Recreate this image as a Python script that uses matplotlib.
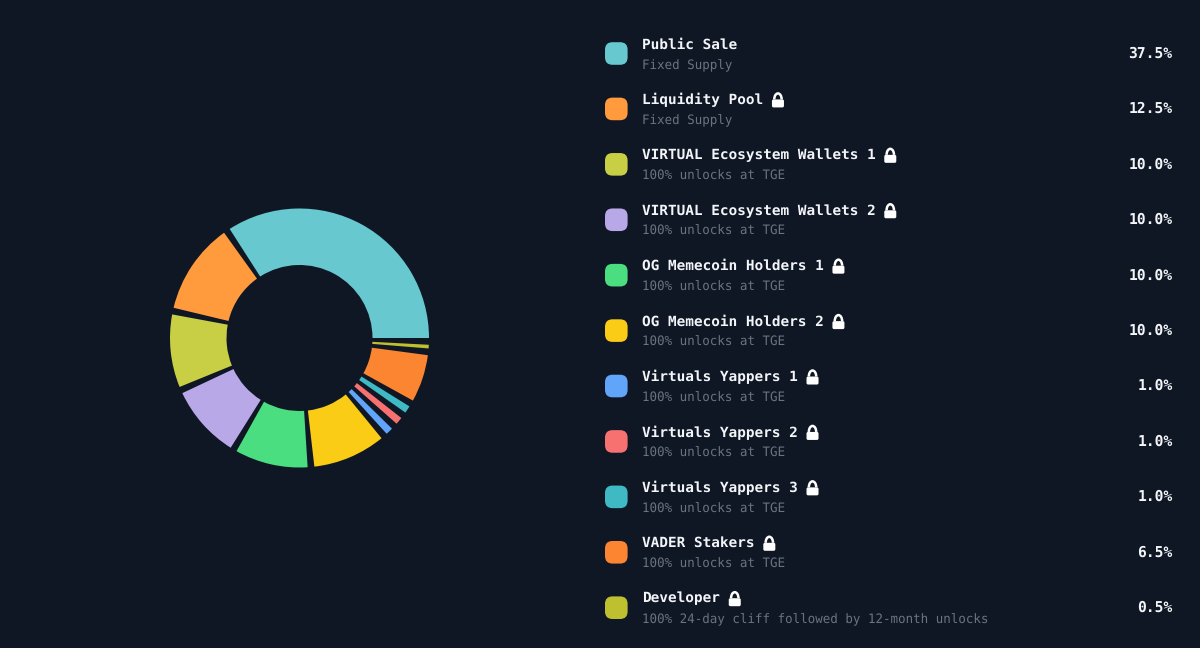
import matplotlib
matplotlib.use('Agg')
import matplotlib.pyplot as plt
from matplotlib.patches import Wedge, FancyBboxPatch, Arc

plt.rcParams['text.hinting'] = 'no_hinting'

# data
names = ['Public Sale', 'Liquidity Pool', 'VIRTUAL Ecosystem Wallets 1', 'VIRTUAL Ecosystem Wallets 2',
         'OG Memecoin Holders 1', 'OG Memecoin Holders 2', 'Virtuals Yappers 1', 'Virtuals Yappers 2',
         'Virtuals Yappers 3', 'VADER Stakers', 'Developer']
notes = ['Fixed Supply', 'Fixed Supply', '100% unlocks at TGE', '100% unlocks at TGE',
         '100% unlocks at TGE', '100% unlocks at TGE', '100% unlocks at TGE', '100% unlocks at TGE',
         '100% unlocks at TGE', '100% unlocks at TGE', '100% 24-day cliff followed by 12-month unlocks']
shares = [37.5, 12.5, 10.0, 10.0, 10.0, 10.0, 1.0, 1.0, 1.0, 6.5, 0.5]
locked = [False, True, True, True, True, True, True, True, True, True, True]
colors = ['#67C8CF', '#FF9A3D', '#C9CF45', '#B9A8E8', '#4ADE80', '#FACC15',
          '#60A5FA', '#F87171', '#3FB9C3', '#FB8530', '#BFC02F']

BG = '#0F1725'
GAP = 3.0  # degrees between slices

fig = plt.figure(figsize=(12, 6.48), dpi=100, facecolor=BG)
ax = fig.add_axes([0, 0, 1, 1])
ax.set_xlim(0, 1200)
ax.set_ylim(648, 0)  # pixel coords, y down
ax.axis('off')

# donut, y axis is flipped so angles run clockwise on screen -> negate them
cx, cy, r_out, r_in = 299.5, 338, 129.5, 73
unit = (360 - GAP * len(shares)) / sum(shares)
start = 0.0
for val, col in zip(shares, colors):
    sweep = val * unit
    ax.add_patch(Wedge((cx, cy), r_out, -(start + sweep), -start, width=r_out - r_in, fc=col, ec='none'))
    start += sweep + GAP


def draw_lock(x, y):
    # padlock, x is left edge, y is the text centre line
    ax.add_patch(FancyBboxPatch((x, y - 0.5), 12, 8, boxstyle='round,pad=0,rounding_size=1.6',
                                fc='white', ec='none'))
    ax.add_patch(Arc((x + 6, y - 0.5), 7.4, 12, theta1=180, theta2=360, ec='white', lw=1.8))


# legend rows
row_top = 53.5
row_step = 55.42
char_w = 8.64
for i, name in enumerate(names):
    y = row_top + i * row_step
    ax.add_patch(FancyBboxPatch((605, y - 11.3), 22.6, 22.6, boxstyle='round,pad=0,rounding_size=7.5',
                                fc=colors[i], ec='none'))
    ax.text(642, y - 9.0, name, color='#F3F5F8', fontsize=10.35, family='DejaVu Sans Mono',
            fontweight='bold', va='center', ha='left')
    ax.text(642, y + 11.9, notes[i], color='#6B7280', fontsize=9.04, family='DejaVu Sans Mono',
            va='center', ha='left')
    ax.text(1172.5, y, f'{shares[i]:.1f}%', color='#F3F5F8', fontsize=10.5, family='DejaVu Sans Mono',
            fontweight='bold', va='center', ha='right')
    if locked[i]:
        draw_lock(642 + len(name) * char_w + 9, y - 9)

fig.savefig('out.png', dpi=100, facecolor=BG)
